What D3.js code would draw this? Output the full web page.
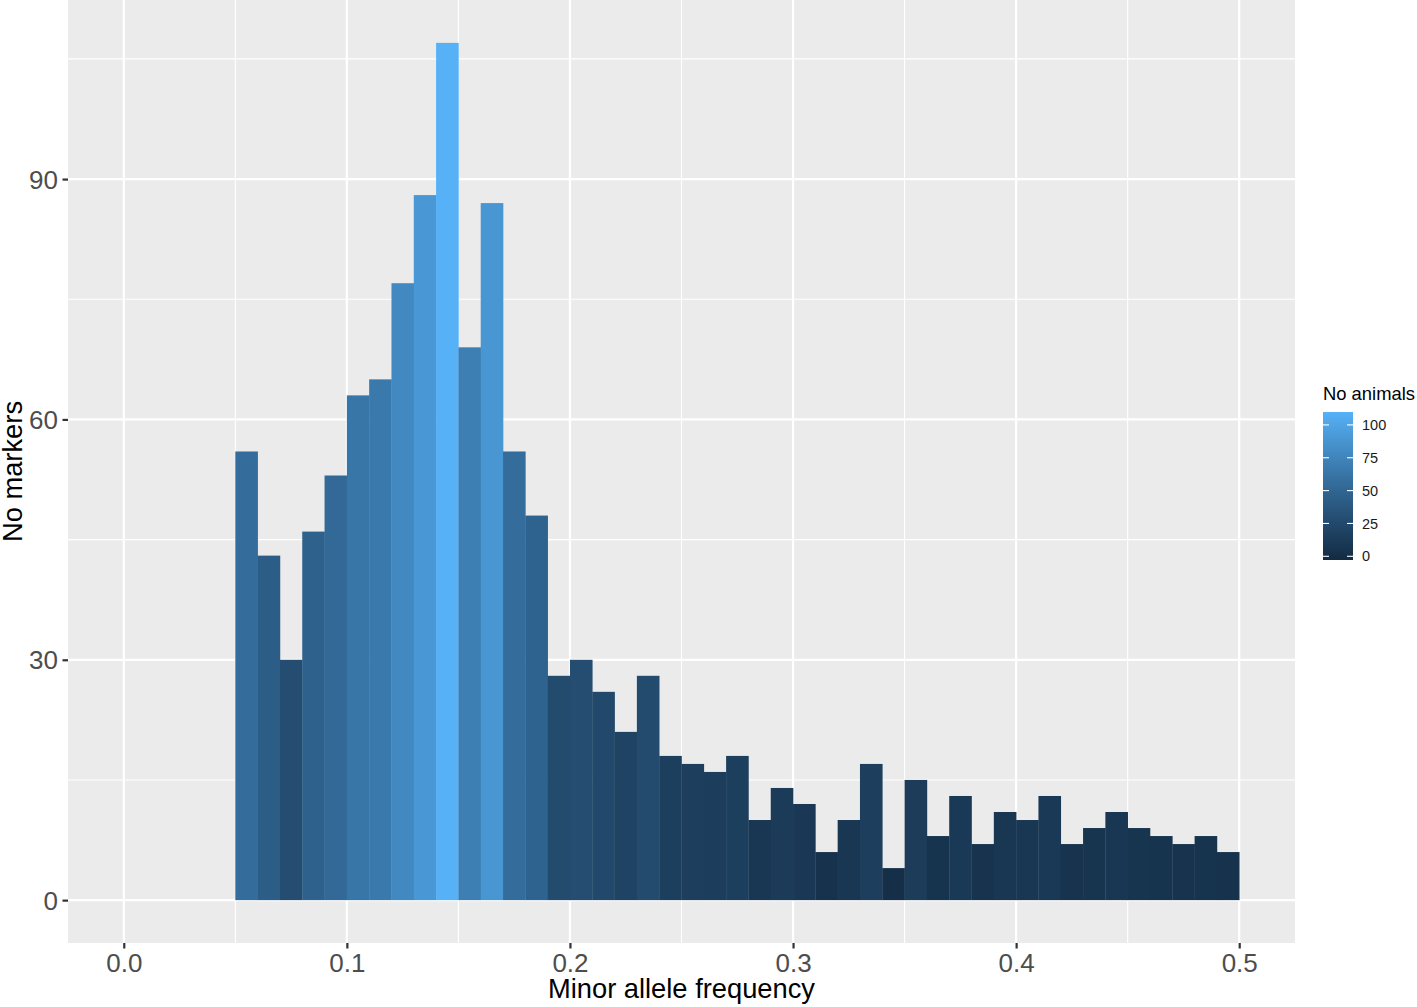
<!DOCTYPE html>
<html>
<head>
<meta charset="utf-8">
<script src="https://cdn.jsdelivr.net/npm/d3@7"></script>
<style>
  html, body { margin: 0; padding: 0; background: #ffffff; }
  svg { display: block; font-family: "Liberation Sans", Arial, Helvetica, sans-serif; }
</style>
</head>
<body>
<svg id="chart" width="1417" height="1007"></svg>
<script>
// ---- data ----
const binStarts = [0.00,0.01,0.02,0.03,0.04,0.05,0.06,0.07,0.08,0.09,
                   0.10,0.11,0.12,0.13,0.14,0.15,0.16,0.17,0.18,0.19,
                   0.20,0.21,0.22,0.23,0.24,0.25,0.26,0.27,0.28,0.29,
                   0.30,0.31,0.32,0.33,0.34,0.35,0.36,0.37,0.38,0.39,
                   0.40,0.41,0.42,0.43,0.44,0.45,0.46,0.47,0.48,0.49];
const binWidth = 0.01;
const counts = [0,0,0,0,0,56,43,30,46,53,
                63,65,77,88,107,69,87,56,48,28,
                30,26,21,28,18,17,16,18,10,14,
                12,6,10,17,4,15,8,13,7,11,
                10,13,7,9,11,9,8,7,8,6];
const xTicks = [0.0,0.1,0.2,0.3,0.4,0.5];
const xMinor = [0.05,0.15,0.25,0.35,0.45];
const yTicks = [0,30,60,90];
const yMinor = [15,45,75,105];
const legendTicks = [0,25,50,75,100];
const xTitle = "Minor allele frequency";
const yTitle = "No markers";
const legendTitle = "No animals";
const lowColor = "#132B43", highColor = "#56B1F7";

// ---- layout ----
const svg = d3.select("#chart");
const panel = {left: 68, right: 1295, top: 0, bottom: 943};

const xMin = 0, xMax = 0.5;
const xPad = (xMax - xMin) * 0.05;
const x = d3.scaleLinear().domain([xMin - xPad, xMax + xPad]).range([panel.left, panel.right]);
const yMax = d3.max(counts);
const yPad = yMax * 0.05;
const y = d3.scaleLinear().domain([-yPad, yMax + yPad]).range([panel.bottom, panel.top]);

const colorInterp = d3.interpolateLab(lowColor, highColor);
const color = d3.scaleSequential(colorInterp).domain([0, yMax]);

// panel background
svg.append("rect")
  .attr("x", panel.left).attr("y", panel.top)
  .attr("width", panel.right - panel.left).attr("height", panel.bottom - panel.top)
  .attr("fill", "#EBEBEB");

// grid
const grid = svg.append("g");
grid.selectAll(".xminor").data(xMinor).enter().append("line")
  .attr("x1", d => x(d)).attr("x2", d => x(d))
  .attr("y1", panel.top).attr("y2", panel.bottom)
  .attr("stroke", "#fff").attr("stroke-width", 1.1);
grid.selectAll(".yminor").data(yMinor).enter().append("line")
  .attr("y1", d => y(d)).attr("y2", d => y(d))
  .attr("x1", panel.left).attr("x2", panel.right)
  .attr("stroke", "#fff").attr("stroke-width", 1.1);
grid.selectAll(".xmajor").data(xTicks).enter().append("line")
  .attr("x1", d => x(d)).attr("x2", d => x(d))
  .attr("y1", panel.top).attr("y2", panel.bottom)
  .attr("stroke", "#fff").attr("stroke-width", 2.2);
grid.selectAll(".ymajor").data(yTicks).enter().append("line")
  .attr("y1", d => y(d)).attr("y2", d => y(d))
  .attr("x1", panel.left).attr("x2", panel.right)
  .attr("stroke", "#fff").attr("stroke-width", 2.2);

// bars
svg.append("g").selectAll("rect").data(counts.map((c, i) => ({x0: binStarts[i], c})))
  .enter().append("rect")
  .attr("x", d => x(d.x0))
  .attr("width", d => x(d.x0 + binWidth) - x(d.x0) + 0.3)
  .attr("y", d => y(d.c))
  .attr("height", d => y(0) - y(d.c))
  .attr("fill", d => color(d.c));

// axes
const xAxis = d3.axisBottom(x).tickValues(xTicks).tickSize(5.5).tickPadding(6)
  .tickFormat(d3.format(".1f"));
const gx = svg.append("g").attr("transform", `translate(0,${panel.bottom})`).call(xAxis);
gx.select(".domain").remove();
gx.selectAll(".tick line").attr("stroke", "#333333").attr("stroke-width", 2.2);
gx.selectAll(".tick text").attr("fill", "#4D4D4D").attr("font-size", "26px")
  .attr("y", 28.5).attr("dy", 0);

const yAxis = d3.axisLeft(y).tickValues(yTicks).tickSize(5.5).tickPadding(4)
  .tickFormat(d3.format("d"));
const gy = svg.append("g").attr("transform", `translate(${panel.left},0)`).call(yAxis);
gy.select(".domain").remove();
gy.selectAll(".tick line").attr("stroke", "#333333").attr("stroke-width", 2.2);
gy.selectAll(".tick text").attr("fill", "#4D4D4D").attr("font-size", "26px")
  .attr("x", -10).attr("dy", "0.35em");
svg.selectAll(".tick text").attr("font-family", "\"Liberation Sans\", Arial, sans-serif");

// axis titles
svg.append("text")
  .attr("x", (panel.left + panel.right) / 2).attr("y", 998)
  .attr("text-anchor", "middle").attr("font-size", "27.3px").attr("fill", "#000")
  .text(xTitle);
svg.append("text")
  .attr("transform", `translate(22,${(panel.top + panel.bottom) / 2}) rotate(-90)`)
  .attr("text-anchor", "middle").attr("font-size", "27.3px").attr("fill", "#000")
  .text(yTitle);

// legend
const lg = {x: 1323, y: 412, w: 30, h: 148};
svg.append("text").attr("x", lg.x).attr("y", 400)
  .attr("font-size", "18.4px").attr("fill", "#000").text(legendTitle);

const defs = svg.append("defs");
const grad = defs.append("linearGradient").attr("id", "lgGrad")
  .attr("x1", 0).attr("y1", 1).attr("x2", 0).attr("y2", 0);
d3.range(0, 1.0001, 0.05).forEach(t => {
  grad.append("stop").attr("offset", t).attr("stop-color", color(t * yMax));
});
svg.append("rect").attr("x", lg.x).attr("y", lg.y).attr("width", lg.w).attr("height", lg.h)
  .attr("fill", "url(#lgGrad)");

const ly = d3.scaleLinear().domain([0, yMax])
  .range([lg.y + lg.h - lg.h * 0.025, lg.y + lg.h * 0.025]);
const lt = svg.append("g");
legendTicks.forEach(v => {
  lt.append("line").attr("x1", lg.x).attr("x2", lg.x + lg.w / 5)
    .attr("y1", ly(v)).attr("y2", ly(v)).attr("stroke", "#fff").attr("stroke-width", 1.1);
  lt.append("line").attr("x1", lg.x + lg.w - lg.w / 5).attr("x2", lg.x + lg.w)
    .attr("y1", ly(v)).attr("y2", ly(v)).attr("stroke", "#fff").attr("stroke-width", 1.1);
  lt.append("text").attr("x", lg.x + lg.w + 9).attr("y", ly(v)).attr("dy", "0.35em")
    .attr("font-size", "14.5px").attr("fill", "#1a1a1a").text(v);
});
</script>
</body>
</html>
